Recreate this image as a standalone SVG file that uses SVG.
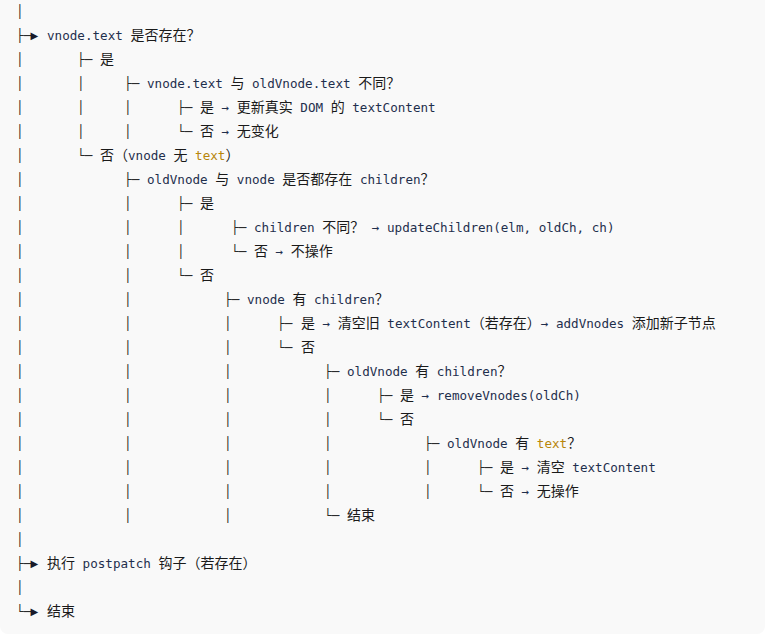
<svg xmlns="http://www.w3.org/2000/svg" width="766" height="636" viewBox="0 0 766 636" xml:space="preserve">
<style>
.t{font-family:"DejaVu Sans Mono",monospace;font-size:12.6px;fill:#2b2b2b}
.a{font-family:"DejaVu Sans",sans-serif;font-size:10px;fill:#1a1a2a}
.ln{font-family:"Noto Sans CJK SC",sans-serif;font-size:14px;fill:#1a1a1a}
.m{font-family:"DejaVu Sans Mono",monospace;font-size:12.6px;fill:#1f2f4d}
.k{font-family:"DejaVu Sans Mono",monospace;font-size:12.6px;fill:#b8860b}
</style>
<rect x="0" y="-20" width="765" height="654" rx="8" fill="#f9f9f9"/>
<g id="connectors">
<text class="t" x="16.2" y="16">│</text>
<text class="t" x="16.2" y="40">├─</text><text class="a" x="30.5" y="39">▶</text>
<text class="t" x="16.2 77.2" y="64">│├─</text>
<text class="t" x="16.2 77.2 124.2" y="88">││├─</text>
<text class="t" x="16.2 77.2 124.2 177.2" y="112">│││├─</text>
<text class="t" x="16.2 77.2 124.2 177.2" y="136">│││└─</text>
<text class="t" x="16.2 77.2" y="160">│└─</text>
<text class="t" x="16.2 124.2" y="184">│├─</text>
<text class="t" x="16.2 124.2 177.2" y="208">││├─</text>
<text class="t" x="16.2 124.2 177.2 231.2" y="232">│││├─</text>
<text class="t" x="16.2 124.2 177.2 231.2" y="256">│││└─</text>
<text class="t" x="16.2 124.2 177.2" y="280">││└─</text>
<text class="t" x="16.2 124.2 224.2" y="304">││├─</text>
<text class="t" x="16.2 124.2 224.2 277.2" y="328">│││├─</text>
<text class="t" x="16.2 124.2 224.2 277.2" y="352">│││└─</text>
<text class="t" x="16.2 124.2 224.2 324.2" y="376">│││├─</text>
<text class="t" x="16.2 124.2 224.2 324.2 377.2" y="400">││││├─</text>
<text class="t" x="16.2 124.2 224.2 324.2 377.2" y="424">││││└─</text>
<text class="t" x="16.2 124.2 224.2 324.2 424.2" y="448">││││├─</text>
<text class="t" x="16.2 124.2 224.2 324.2 424.2 477.2" y="472">│││││├─</text>
<text class="t" x="16.2 124.2 224.2 324.2 424.2 477.2" y="496">│││││└─</text>
<text class="t" x="16.2 124.2 224.2 324.2" y="520">│││└─</text>
<text class="t" x="16.2" y="544">│</text>
<text class="t" x="16.2" y="568">├─</text><text class="a" x="30.5" y="567">▶</text>
<text class="t" x="16.2" y="592">│</text>
<text class="t" x="16.2" y="616">└─</text><text class="a" x="30.5" y="615">▶</text>
</g>
<g id="n1"><text class="ln" x="47" y="40"><tspan class="m">vnode.text </tspan>是否存在？</text></g>
<g id="n2"><text class="ln" x="100" y="64">是</text></g>
<g id="n3"><text class="ln" x="147" y="88"><tspan class="m">vnode.text </tspan>与<tspan class="m"> oldVnode.text </tspan>不同？</text></g>
<g id="n4"><text class="ln" x="200" y="112">是<tspan class="m"> → </tspan>更新真实<tspan class="m"> DOM </tspan>的<tspan class="m"> textContent</tspan></text></g>
<g id="n5"><text class="ln" x="200" y="136">否<tspan class="m"> → </tspan>无变化</text></g>
<g id="n6"><text class="ln" x="100" y="160">否（<tspan class="m">vnode </tspan>无<tspan class="m"> </tspan><tspan class="k">text</tspan>）</text></g>
<g id="n7"><text class="ln" x="147" y="184"><tspan class="m">oldVnode </tspan>与<tspan class="m"> vnode </tspan>是否都存在<tspan class="m"> children</tspan>？</text></g>
<g id="n8"><text class="ln" x="200" y="208">是</text></g>
<g id="n9"><text class="ln" x="254" y="232"><tspan class="m">children </tspan>不同？<tspan class="m"> → updateChildren(elm, oldCh, ch)</tspan></text></g>
<g id="n10"><text class="ln" x="254" y="256">否<tspan class="m"> → </tspan>不操作</text></g>
<g id="n11"><text class="ln" x="200" y="280">否</text></g>
<g id="n12"><text class="ln" x="247" y="304"><tspan class="m">vnode </tspan>有<tspan class="m"> children</tspan>？</text></g>
<g id="n13"><text class="ln" x="301" y="328">是<tspan class="m"> → </tspan>清空旧<tspan class="m"> textContent</tspan>（若存在）<tspan class="m">→ addVnodes </tspan>添加新子节点</text></g>
<g id="n14"><text class="ln" x="301" y="352">否</text></g>
<g id="n15"><text class="ln" x="347" y="376"><tspan class="m">oldVnode </tspan>有<tspan class="m"> children</tspan>？</text></g>
<g id="n16"><text class="ln" x="400" y="400">是<tspan class="m"> → removeVnodes(oldCh)</tspan></text></g>
<g id="n17"><text class="ln" x="400" y="424">否</text></g>
<g id="n18"><text class="ln" x="447" y="448"><tspan class="m">oldVnode </tspan>有<tspan class="m"> </tspan><tspan class="k">text</tspan>？</text></g>
<g id="n19"><text class="ln" x="500" y="472">是<tspan class="m"> → </tspan>清空<tspan class="m"> textContent</tspan></text></g>
<g id="n20"><text class="ln" x="500" y="496">否<tspan class="m"> → </tspan>无操作</text></g>
<g id="n21"><text class="ln" x="347" y="520">结束</text></g>
<g id="n23"><text class="ln" x="47" y="568">执行<tspan class="m"> postpatch </tspan>钩子（若存在）</text></g>
<g id="n25"><text class="ln" x="47" y="616">结束</text></g>
</svg>
